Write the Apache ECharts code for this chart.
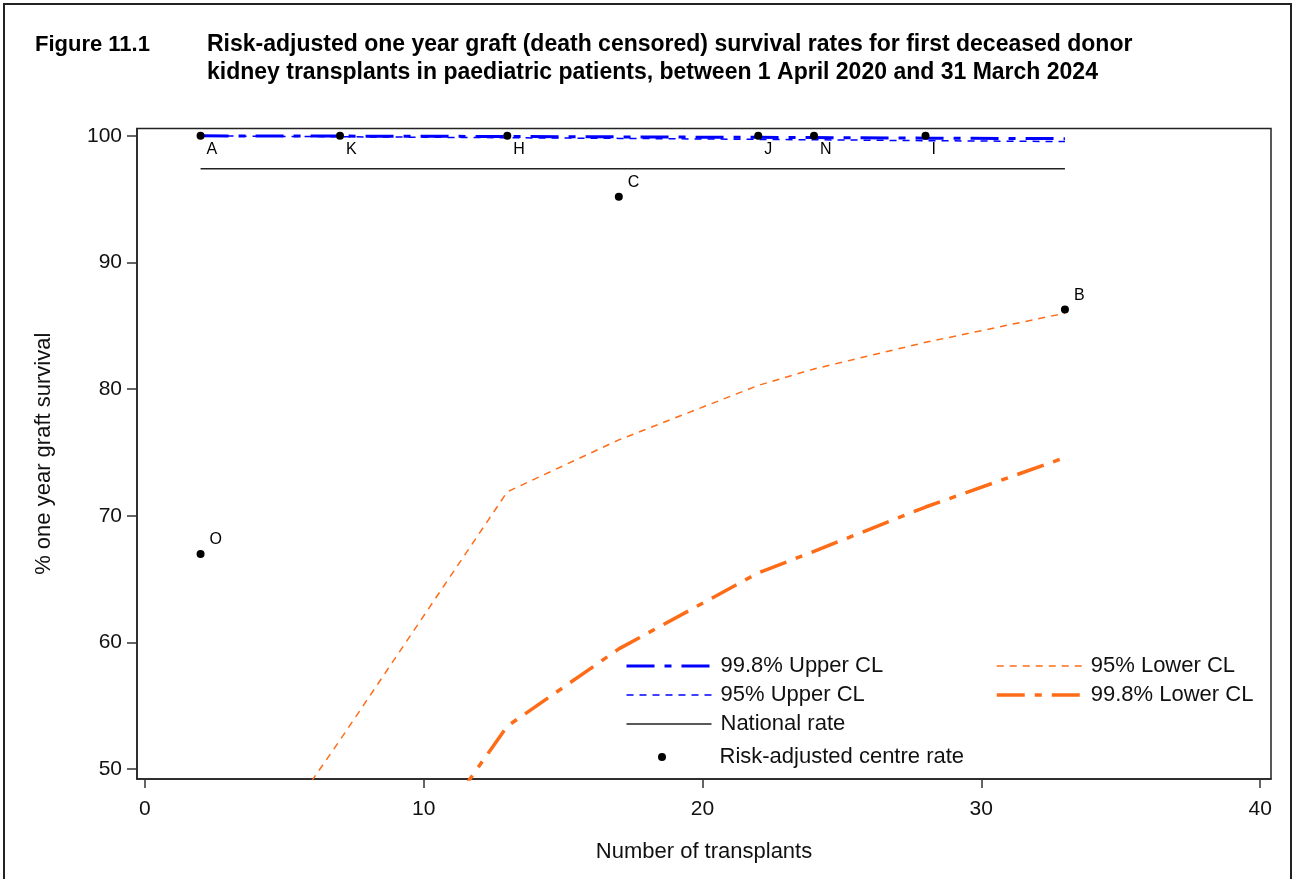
<!DOCTYPE html>
<html>
<head>
<meta charset="utf-8">
<title>Figure 11.1</title>
<script src="https://cdn.jsdelivr.net/npm/echarts@6/dist/echarts.min.js"></script>
<style>
  html, body { margin: 0; padding: 0; background: #fff; }
  #chart { width: 1295px; height: 879px; }
</style>
</head>
<body>
<div id="chart"></div>
<script>
// number of transplants at which the control limits were evaluated
const nPoints = [2, 7, 13, 17, 22, 24, 28, 33];
const upper998 = [100, 99.98, 99.95, 99.92, 99.88, 99.86, 99.82, 99.78];
const upper95 = [100, 99.93, 99.85, 99.8, 99.72, 99.69, 99.62, 99.55];
const lower95 = [36.4, 52.3, 71.9, 76.0, 80.3, 81.6, 83.7, 86.0];
const lower998 = [9.5, 34.7, 53.4, 59.5, 65.5, 67.2, 70.7, 74.6];
const nationalRate = 97.4;

// centres
const centreNames = ['A', 'K', 'H', 'C', 'J', 'N', 'I', 'B', 'O'];
const centreTransplants = [2, 7, 13, 17, 22, 24, 28, 33, 2];
const centreRates = [100, 100, 100, 95.2, 100, 100, 100, 86.3, 67.0];

const xTicks = [0, 10, 20, 30, 40];
const yTicks = [50, 60, 70, 80, 90, 100];

const FONT = '"Liberation Sans", Arial, sans-serif';
const ORANGE = '#ff6c17';
const BLUE = '#0000ff';
const DASHDOT = [28, 10, 7, 10];
const SHORTDASH = [7, 6];

function pairs(xs, ys) {
  return xs.map((x, i) => [x, ys[i]]);
}

const centreData = centreNames.map((name, i) => {
  const above = centreRates[i] < 99;
  return {
    name: name,
    value: [centreTransplants[i], centreRates[i]],
    label: above ? { offset: [3, -14] } : { offset: [0, 14] }
  };
});

const legendText = { fontFamily: FONT, fontSize: 22, lineHeight: 22, color: '#111', padding: [0, 0, 0, 4] };
const lineLegend = (name, color, width, type) => ({
  name: name,
  itemStyle: { opacity: 0 },
  lineStyle: { color: color, width: width, type: type }
});

const chart = echarts.init(document.getElementById('chart'));
chart.setOption({
  animation: false,
  backgroundColor: '#fff',
  textStyle: { fontFamily: FONT },
  title: [
    {
      text: 'Figure 11.1',
      left: 35, top: 31, padding: 0,
      textStyle: { fontFamily: FONT, fontSize: 22, fontWeight: 'bold', color: '#000', lineHeight: 28 }
    },
    {
      text: 'Risk-adjusted one year graft (death censored) survival rates for first deceased donor\nkidney transplants in paediatric patients, between 1 April 2020 and 31 March 2024',
      left: 207, top: 31, padding: 0,
      textStyle: { fontFamily: FONT, fontSize: 23, fontWeight: 'bold', color: '#000', lineHeight: 28 }
    }
  ],
  graphic: [{
    type: 'rect',
    shape: { x: 4, y: 4, width: 1287, height: 900 },
    style: { fill: 'none', stroke: '#222', lineWidth: 2 },
    silent: true
  }],
  legend: [
    {
      data: [
        lineLegend('99.8% Upper CL', BLUE, 3, DASHDOT),
        lineLegend('95% Upper CL', BLUE, 1.5, SHORTDASH),
        lineLegend('National rate', '#222', 1.5, 'solid')
      ],
      orient: 'vertical',
      left: 620, top: 650,
      itemWidth: 85, itemHeight: 14, itemGap: 7,
      selectedMode: false,
      textStyle: legendText
    },
    {
      data: [{ name: 'Risk-adjusted centre rate', icon: 'circle', itemStyle: { color: '#000' } }],
      orient: 'vertical',
      left: 653, top: 741,
      itemWidth: 85, itemHeight: 8,
      selectedMode: false,
      textStyle: Object.assign({}, legendText, { padding: [0, 0, 0, 10] })
    },
    {
      data: [
        lineLegend('95% Lower CL', ORANGE, 1.5, SHORTDASH),
        lineLegend('99.8% Lower CL', ORANGE, 3.5, DASHDOT)
      ],
      orient: 'vertical',
      left: 990, top: 650,
      itemWidth: 85, itemHeight: 14, itemGap: 7,
      selectedMode: false,
      textStyle: legendText
    }
  ],
  grid: {
    left: 137, right: 24, top: 128.5, bottom: 100,
    show: true, borderColor: '#222', borderWidth: 1.5,
    containLabel: false
  },
  xAxis: {
    type: 'value',
    min: -0.28, max: 40.39,
    name: 'Number of transplants',
    nameLocation: 'middle', nameGap: 62,
    nameTextStyle: { fontFamily: FONT, fontSize: 22, color: '#111' },
    axisLine: { show: true, onZero: false, lineStyle: { color: '#222', width: 1.5 } },
    axisTick: { show: true, length: 9, customValues: xTicks, lineStyle: { color: '#333', width: 1.5 } },
    axisLabel: { customValues: xTicks, fontSize: 21, color: '#111', margin: 20 },
    splitLine: { show: false }
  },
  yAxis: {
    type: 'value',
    min: 49.23, max: 100.58,
    name: '% one year graft survival',
    nameLocation: 'middle', nameGap: 82, nameRotate: 90,
    nameTextStyle: { fontFamily: FONT, fontSize: 22, color: '#111' },
    axisLine: { show: true, onZero: false, lineStyle: { color: '#222', width: 1.5 } },
    axisTick: { show: true, length: 10, customValues: yTicks, lineStyle: { color: '#333', width: 1.5 } },
    axisLabel: { customValues: yTicks, fontSize: 21, color: '#111', margin: 15 },
    splitLine: { show: false }
  },
  series: [
    {
      name: '99.8% Upper CL', type: 'line', symbol: 'none', clip: true,
      data: pairs(nPoints, upper998),
      lineStyle: { color: BLUE, width: 3, type: DASHDOT },
      itemStyle: { color: BLUE }, z: 3
    },
    {
      name: '95% Upper CL', type: 'line', symbol: 'none', clip: true,
      data: pairs(nPoints, upper95),
      lineStyle: { color: BLUE, width: 1.5, type: SHORTDASH },
      itemStyle: { color: BLUE }, z: 3
    },
    {
      name: 'National rate', type: 'line', symbol: 'none', clip: true,
      data: [[nPoints[0], nationalRate], [nPoints[nPoints.length - 1], nationalRate]],
      lineStyle: { color: '#222', width: 1.5 },
      itemStyle: { color: '#222' }, z: 2
    },
    {
      name: '95% Lower CL', type: 'line', symbol: 'none', clip: true,
      data: pairs(nPoints, lower95),
      lineStyle: { color: ORANGE, width: 1.5, type: SHORTDASH },
      itemStyle: { color: ORANGE }, z: 2
    },
    {
      name: '99.8% Lower CL', type: 'line', symbol: 'none', clip: true,
      data: pairs(nPoints, lower998),
      lineStyle: { color: ORANGE, width: 3.5, type: DASHDOT },
      itemStyle: { color: ORANGE }, z: 2
    },
    {
      name: 'Risk-adjusted centre rate', type: 'scatter',
      symbol: 'circle', symbolSize: 8,
      itemStyle: { color: '#000', opacity: 1 },
      data: centreData,
      label: {
        show: true, position: 'right', distance: 2,
        formatter: '{b}', fontSize: 16, color: '#000', fontFamily: FONT
      },
      z: 5
    }
  ]
});
</script>
</body>
</html>
